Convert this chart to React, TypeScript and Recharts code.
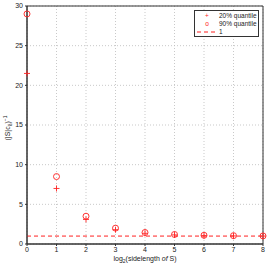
import {
  ComposedChart,
  Scatter,
  XAxis,
  YAxis,
  CartesianGrid,
  ReferenceLine,
  ReferenceArea,
} from 'recharts';

const levels = [0, 1, 2, 3, 4, 5, 6, 7, 8];
const q20 = [21.5, 7.0, 3.1, 1.8, 1.35, 1.15, 1.05, 1.02, 1.0];
const q90 = [29.0, 8.5, 3.5, 2.0, 1.45, 1.2, 1.1, 1.05, 1.02];
const yTicks = [0, 5, 10, 15, 20, 25, 30];

const RED = '#ff2020';
const FONT = '"Liberation Sans", Arial, Helvetica, sans-serif';

const data20 = levels.map((x, i) => ({ x, y: q20[i] }));
const data90 = levels.map((x, i) => ({ x, y: q90[i] }));

const Plus = (props: any) => {
  const { cx, cy } = props;
  return (
    <path
      d={`M${cx - 3},${cy}H${cx + 3}M${cx},${cy - 3}V${cy + 3}`}
      stroke={RED}
      strokeWidth={0.9}
    />
  );
};

const Ring = (props: any) => {
  const { cx, cy } = props;
  return <circle cx={cx} cy={cy} r={3} fill="none" stroke={RED} strokeWidth={0.9} />;
};

const XLabel = (props: any) => {
  const { viewBox } = props;
  const x = viewBox.x + viewBox.width / 2;
  return (
    <text x={x} y={261} textAnchor="middle" fontSize={7} fill="#222">
      log<tspan fontSize={5} dy={2}>2</tspan>
      <tspan dy={-2}>(sidelength </tspan>
      <tspan fontStyle="italic">of</tspan>
      <tspan> S)</tspan>
    </text>
  );
};

const YLabel = () => (
  <text x={10} y={128} transform="rotate(-90 10 128)" textAnchor="middle" fontSize={7} fill="#222">
    (|S|c<tspan fontSize={5} dy={2}>δ</tspan>
    <tspan dy={-2}>)</tspan>
    <tspan fontSize={5} dy={-3}>−1</tspan>
  </text>
);

export default function App() {
  return (
    <div
      style={{
        position: 'absolute',
        left: 0,
        top: 0,
        width: 270,
        height: 265,
        background: '#fff',
        fontFamily: FONT,
      }}
    >
      <ComposedChart
        width={270}
        height={265}
        margin={{ top: 6, right: 7, bottom: 0, left: 0 }}
        style={{ fontFamily: FONT }}
      >
        <CartesianGrid stroke="#bbb" strokeDasharray="1 2" strokeWidth={0.8} />
        <XAxis
          dataKey="x"
          type="number"
          domain={[0, 8]}
          ticks={levels}
          height={21}
          tickSize={2}
          tickMargin={1}
          tick={{ fontSize: 7, fill: '#222' }}
          stroke="#333"
          label={<XLabel />}
        />
        <YAxis
          type="number"
          domain={[0, 30]}
          ticks={yTicks}
          width={27}
          tickSize={2}
          tickMargin={2}
          tick={{ fontSize: 7, fill: '#222' }}
          stroke="#333"
        />
        <ReferenceArea x1={0} x2={8} y1={0} y2={30} fill="none" stroke="#333" strokeWidth={1} />
        <ReferenceLine y={1} stroke={RED} strokeDasharray="4 3" strokeWidth={1} />
        <Scatter data={data20} dataKey="y" shape={<Plus />} isAnimationActive={false} />
        <Scatter data={data90} dataKey="y" shape={<Ring />} isAnimationActive={false} />
      </ComposedChart>
      <svg
        width={270}
        height={265}
        style={{ position: 'absolute', left: 0, top: 0, pointerEvents: 'none', fontFamily: FONT }}
      >
        <YLabel />
      </svg>
      <div
        style={{
          position: 'absolute',
          left: 194,
          top: 10,
          width: 65,
          height: 27,
          border: '1px solid #333',
          background: '#fff',
          fontSize: 6.5,
          color: '#222',
          lineHeight: '8px',
          padding: '1px 0',
          boxSizing: 'border-box',
        }}
      >
        <div style={{ display: 'flex' }}>
          <span style={{ width: 24, textAlign: 'center', color: RED }}>+</span>
          <span>20% quantile</span>
        </div>
        <div style={{ display: 'flex' }}>
          <span style={{ width: 24, textAlign: 'center', color: RED }}>o</span>
          <span>90% quantile</span>
        </div>
        <div style={{ display: 'flex', alignItems: 'center' }}>
          <span style={{ width: 24, display: 'flex', justifyContent: 'center' }}>
            <svg width={20} height={4}>
              <line x1={0} y1={2} x2={20} y2={2} stroke={RED} strokeDasharray="4 3" />
            </svg>
          </span>
          <span>1</span>
        </div>
      </div>
    </div>
  );
}
